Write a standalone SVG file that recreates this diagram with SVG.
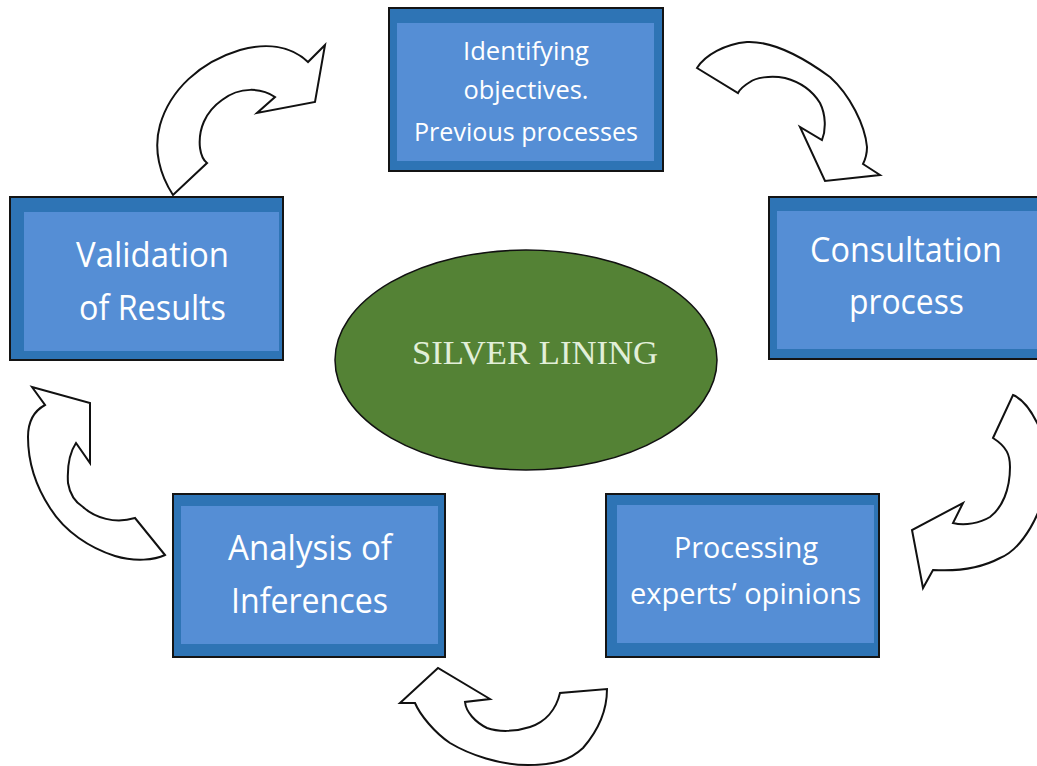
<svg xmlns="http://www.w3.org/2000/svg" width="1037" height="766" viewBox="0 0 1037 766">
<style>
.outer{fill:#2E74B5;stroke:#141414;stroke-width:2}
.inner{fill:#558ED5}
.t{font-family:"Open Sans","Liberation Sans",sans-serif;fill:#FFFFFF;text-anchor:middle}
.s{font-size:26px}
.b{font-size:34px}
.m{font-size:29px}
.arrow{fill:#FFFFFF;stroke:#111111;stroke-width:2;stroke-linejoin:miter}
</style>
<rect width="1037" height="766" fill="#FFFFFF"/>
<g id="connectors">
<path class="arrow" d="M173,195 C160,175 153,150 160,125 C170,90 200,62 240,50 C265,43 290,45 308,62 L325,45 L315,102 L257,113 L275,97 C262,88 240,86 222,100 C205,112 198,130 200,148 C201,155 203,160 207,163 Z"/>
<path class="arrow" d="M697,68 C705,55 725,44 747,42 C770,41 800,55 830,77 C850,95 865,125 867,147 C867,155 865,160 863,164 L880,175 L825,181 L800,127 L822,140 C826,130 826,115 820,103 C812,90 800,82 785,78 C770,75 755,78 750,82 C745,85 740,89 738,93 Z"/>
<path class="arrow" d="M1013,395 C1030,402 1050,440 1048,470 C1045,515 1020,550 1000,558 C985,566 965,572 933,570 L923,588 L912,530 L963,503 L953,523 C965,526 980,523 990,517 C1002,508 1010,490 1010,467 C1010,455 1007,447 993,438 Z"/>
<path class="arrow" d="M607,689 C607,705 603,725 583,748 C570,760 555,765 528,765 C500,765 470,755 450,743 C435,733 420,715 415,703 L400,703 L438,668 L490,699 L465,702 C466,712 475,722 487,728 C498,732 515,732 530,727 C545,722 556,710 560,693 Z"/>
<path class="arrow" d="M165,555 C155,560 135,562 115,556 C90,548 65,532 50,508 C35,485 28,460 28,437 C28,425 32,412 45,405 L32,387 L90,403 L90,463 L76,443 C70,452 67,466 68,483 C70,495 75,502 83,507 C95,518 115,524 135,518 Z"/>
</g>
<g id="node-identifying">
<rect class="outer" x="389" y="8" width="274" height="163"/>
<rect class="inner" x="397" y="23" width="257" height="138"/>
<text class="t s" x="526" y="60" textLength="126" lengthAdjust="spacingAndGlyphs">Identifying</text>
<text class="t s" x="526" y="99" textLength="125" lengthAdjust="spacingAndGlyphs">objectives.</text>
<text class="t s" x="526" y="141" textLength="224" lengthAdjust="spacingAndGlyphs">Previous processes</text>
</g>
<g id="node-validation">
<rect class="outer" x="10" y="197" width="273" height="163"/>
<rect class="inner" x="24" y="212" width="255" height="139"/>
<text class="t b" x="152.5" y="267" textLength="153" lengthAdjust="spacingAndGlyphs">Validation</text>
<text class="t b" x="152.5" y="320" textLength="147" lengthAdjust="spacingAndGlyphs">of Results</text>
</g>
<g id="node-consultation">
<rect class="outer" x="769" y="197" width="280" height="162"/>
<rect class="inner" x="777" y="211" width="270" height="138"/>
<text class="t b" x="906" y="262" textLength="192" lengthAdjust="spacingAndGlyphs">Consultation</text>
<text class="t b" x="906.5" y="314" textLength="115" lengthAdjust="spacingAndGlyphs">process</text>
</g>
<g id="node-analysis">
<rect class="outer" x="173" y="494" width="272" height="163"/>
<rect class="inner" x="181" y="506" width="257" height="138"/>
<text class="t b" x="310" y="560" textLength="164" lengthAdjust="spacingAndGlyphs">Analysis of</text>
<text class="t b" x="309.5" y="613" textLength="157" lengthAdjust="spacingAndGlyphs">Inferences</text>
</g>
<g id="node-processing">
<rect class="outer" x="606" y="494" width="273" height="163"/>
<rect class="inner" x="617" y="505" width="257" height="138"/>
<text class="t m" x="746" y="558" textLength="144" lengthAdjust="spacingAndGlyphs">Processing</text>
<text class="t m" x="745.5" y="604" textLength="231" lengthAdjust="spacingAndGlyphs">experts’ opinions</text>
</g>
<g id="node-silver-lining">
<ellipse cx="526" cy="360" rx="191" ry="110" fill="#548235" stroke="#111111" stroke-width="1.5"/>
<text x="535" y="364" font-family="'Liberation Serif',serif" font-size="33" fill="#E2EFD9" text-anchor="middle" textLength="246" lengthAdjust="spacingAndGlyphs">SILVER LINING</text>
</g>
</svg>
